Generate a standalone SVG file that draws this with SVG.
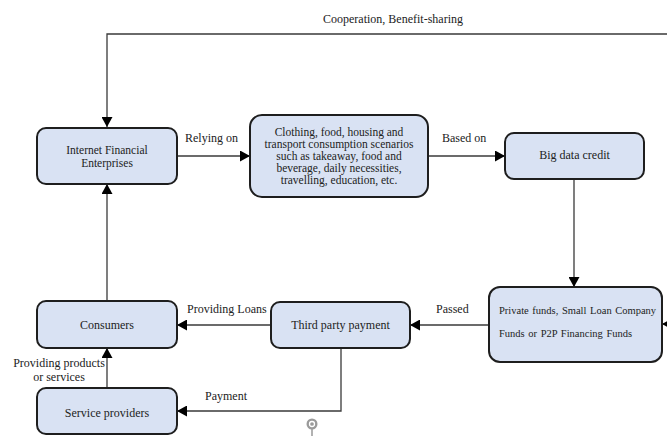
<svg xmlns="http://www.w3.org/2000/svg" width="667" height="436" viewBox="0 0 667 436">
<style>
.box{fill:#d9e2f3;stroke:#1e1e1e;stroke-width:2}
.t{font-family:"Liberation Serif","Times New Roman",serif;font-size:12px;fill:#222}
.m{font-size:11.5px}
.c{text-anchor:middle}
.s{font-size:10.5px;word-spacing:1px}
.ln{fill:none;stroke:#3a3a3a;stroke-width:1.3}
</style>
<defs>
<marker id="ah" markerUnits="userSpaceOnUse" markerWidth="11" markerHeight="11" refX="10" refY="5.5" orient="auto">
<path d="M0,0 L10,5.5 L0,11 z" fill="#000"/>
</marker>
</defs>
<rect width="667" height="436" fill="#fff"/>
<g id="connectors">
<path class="ln" d="M667 34 H107 V127" marker-end="url(#ah)"/>
<path class="ln" d="M177 156 H250" marker-end="url(#ah)"/>
<path class="ln" d="M428 156 H505" marker-end="url(#ah)"/>
<path class="ln" d="M574 179 V287" marker-end="url(#ah)"/>
<path class="ln" d="M489 325 H410" marker-end="url(#ah)"/>
<path class="ln" d="M271 325 H177" marker-end="url(#ah)"/>
<path class="ln" d="M107 301 V184" marker-end="url(#ah)"/>
<path class="ln" d="M107 388 V348" marker-end="url(#ah)"/>
<path class="ln" d="M341 348 V411 H177" marker-end="url(#ah)"/>
<path class="ln" d="M685 324 H662" marker-end="url(#ah)"/>
<text class="t c" x="393" y="23">Cooperation, Benefit-sharing</text>
<text class="t" x="185" y="142">Relying on</text>
<text class="t" x="442" y="142">Based on</text>
<text class="t" x="436" y="313">Passed</text>
<text class="t" x="187" y="313">Providing Loans</text>
<text class="t" x="205" y="400">Payment</text>
<text class="t c" x="59" y="367">Providing products</text>
<text class="t c" x="59" y="381">or services</text>
</g>
<g id="ife">
<rect class="box" x="37" y="128" width="140" height="56" rx="9"/>
<text class="t m c" x="107" y="154">Internet Financial</text>
<text class="t m c" x="107" y="166.5">Enterprises</text>
</g>
<g id="scenarios">
<rect class="box" x="250" y="115" width="178" height="82" rx="12"/>
<text class="t m c" x="339" y="136">Clothing, food, housing and</text>
<text class="t m c" x="339" y="148">transport consumption scenarios</text>
<text class="t m c" x="339" y="160">such as takeaway, food and</text>
<text class="t m c" x="339" y="172">beverage, daily necessities,</text>
<text class="t m c" x="339" y="184">travelling, education, etc.</text>
</g>
<g id="bigdata">
<rect class="box" x="505" y="133" width="139" height="46" rx="9"/>
<text class="t c" x="574.5" y="159">Big data credit</text>
</g>
<g id="private">
<rect class="box" x="489" y="287" width="173" height="75" rx="11"/>
<text class="t s" x="499" y="314">Private funds, Small Loan Company</text>
<text class="t s" x="499" y="337">Funds or P2P Financing Funds</text>
</g>
<g id="thirdparty">
<rect class="box" x="271" y="302" width="139" height="46" rx="9"/>
<text class="t c" x="340.5" y="329">Third party payment</text>
</g>
<g id="consumers">
<rect class="box" x="37" y="301" width="140" height="47" rx="9"/>
<text class="t c" x="107" y="329">Consumers</text>
</g>
<g id="service">
<rect class="box" x="37" y="388" width="140" height="46" rx="9"/>
<text class="t c" x="107" y="417">Service providers</text>
</g>
<g id="icon">
<line x1="312" y1="429" x2="312" y2="436" stroke="#999" stroke-width="1.5"/>
<circle cx="312" cy="424" r="5.5" fill="#9a9a9a"/>
<circle cx="312" cy="424" r="2.5" fill="none" stroke="#fff" stroke-width="1.3"/>
</g>
</svg>
